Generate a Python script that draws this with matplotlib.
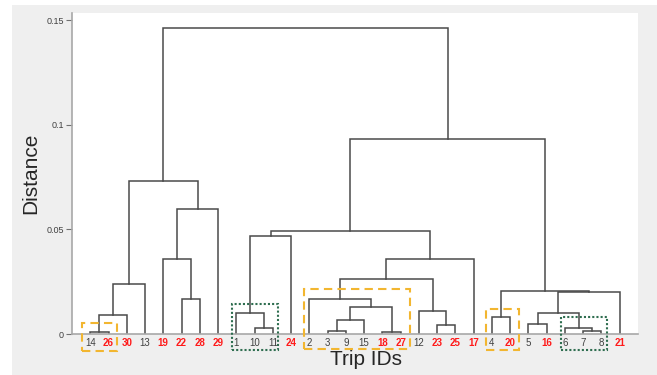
import numpy as np
import matplotlib
matplotlib.use('Agg')
from matplotlib import pyplot as plt
from matplotlib.patches import Rectangle

plt.rcParams.update({'font.family': ['Liberation Sans', 'DejaVu Sans']})

# leaf order along the x axis and which trip IDs are printed in red
leaf_order = [14, 26, 30, 13, 19, 22, 28, 29, 1, 10, 11, 24, 2, 3, 9, 15,
              18, 27, 12, 23, 25, 17, 4, 20, 5, 16, 6, 7, 8, 21]
red_ids = [26, 30, 19, 22, 28, 29, 24, 18, 27, 23, 25, 17, 20, 16, 21]

# merges: (left child, right child, distance); 'cN' = result of merge N
links = [
    (14, 26, 0.0008),      # c0
    ('c0', 30, 0.0092),    # c1
    ('c1', 13, 0.0238),    # c2
    (22, 28, 0.0167),      # c3
    (19, 'c3', 0.0357),    # c4
    ('c4', 29, 0.0598),    # c5
    ('c2', 'c5', 0.0733),  # c6
    (10, 11, 0.0030),      # c7
    (1, 'c7', 0.0100),     # c8
    ('c8', 24, 0.0469),    # c9
    (3, 9, 0.0014),        # c10
    ('c10', 15, 0.0065),   # c11
    (18, 27, 0.0011),      # c12
    ('c11', 'c12', 0.0129),  # c13
    (2, 'c13', 0.0169),    # c14
    (23, 25, 0.0043),      # c15
    (12, 'c15', 0.0111),   # c16
    ('c14', 'c16', 0.0262),  # c17
    ('c17', 17, 0.0357),   # c18
    ('c9', 'c18', 0.0494),   # c19
    (4, 20, 0.0083),       # c20
    (5, 16, 0.0048),       # c21
    (7, 8, 0.0016),        # c22
    (6, 'c22', 0.0027),    # c23
    ('c21', 'c23', 0.0100),  # c24
    ('c24', 21, 0.0201),   # c25
    ('c20', 'c25', 0.0206),  # c26
    ('c19', 'c26', 0.0933),  # c27
    ('c6', 'c27', 0.1462),   # c28
]

# highlight boxes: (x0, x1, y0, y1, kind)
boxes = [
    (0.53, 2.45, -0.0079, 0.0051, 'orange'),
    (8.75, 11.30, -0.0077, 0.0142, 'green'),
    (12.70, 18.50, -0.0074, 0.0215, 'orange'),
    (22.70, 24.50, -0.0077, 0.0118, 'orange'),
    (26.80, 29.30, -0.0077, 0.0079, 'green'),
]

W, H = 657, 375
fig = plt.figure(figsize=(W / 100, H / 100), dpi=100, facecolor='white')
fig.patches.append(Rectangle((12 / W, 0), 1 - 12 / W, 1 - 5 / H,
                             transform=fig.transFigure, facecolor='#efefef',
                             edgecolor='none', zorder=-10))
ax = fig.add_axes([72 / W, 41 / H, 566 / W, 320.7 / H])

pos = {leaf: i + 1 for i, leaf in enumerate(leaf_order)}
hgt = {leaf: 0.0 for leaf in leaf_order}
line_col = '#4a4a4a'
for n, (a, b, d) in enumerate(links):
    xa, xb = pos[a], pos[b]
    ax.plot([xa, xa, xb, xb], [hgt[a], d, d, hgt[b]], color=line_col,
            lw=1.1, solid_joinstyle='miter')
    pos['c%d' % n] = (xa + xb) / 2
    hgt['c%d' % n] = d

for x0, x1, y0, y1, kind in boxes:
    if kind == 'orange':
        r = Rectangle((x0, y0), x1 - x0, y1 - y0, fill=False,
                      edgecolor='#f2b630', lw=1.5, linestyle=(0, (4, 2.5)),
                      clip_on=False, zorder=5)
    else:
        r = Rectangle((x0, y0), x1 - x0, y1 - y0, fill=False,
                      edgecolor='#2f6e50', lw=1.5, linestyle=(0, (1, 1)),
                      clip_on=False, zorder=5)
    ax.add_patch(r)

ax.set_xlim(0, len(leaf_order) + 1)
ax.set_ylim(0, 0.1534)
ax.set_xticks(range(1, len(leaf_order) + 1))
ax.set_xticklabels([str(t) for t in leaf_order])
for lab, t in zip(ax.get_xticklabels(), leaf_order):
    if t in red_ids:
        lab.set_color('#ff1a1a')
        lab.set_fontweight('bold')
    else:
        lab.set_color('#404040')
    lab.set_fontsize(7)
ax.tick_params(axis='x', length=0, pad=3)
ax.set_yticks([0, 0.05, 0.1, 0.15])
ax.set_yticklabels(['0', '0.05', '0.1', '0.15'])
ax.tick_params(axis='y', direction='out', length=4, width=0.8,
               colors='#707070', labelcolor='#404040', labelsize=6.5, pad=2)

for s in ['top', 'right']:
    ax.spines[s].set_visible(False)
for s in ['left', 'bottom']:
    ax.spines[s].set_color('#a8a8a8')
    ax.spines[s].set_linewidth(1.2)

ax.set_xlabel('Trip IDs', fontsize=15, color='#262626')
ax.xaxis.set_label_coords(0.519, -0.05)
ax.set_ylabel('Distance', fontsize=15, color='#262626')
ax.yaxis.set_label_coords(-0.056, 0.5)

fig.savefig('out.png', dpi=100, facecolor=fig.get_facecolor())
